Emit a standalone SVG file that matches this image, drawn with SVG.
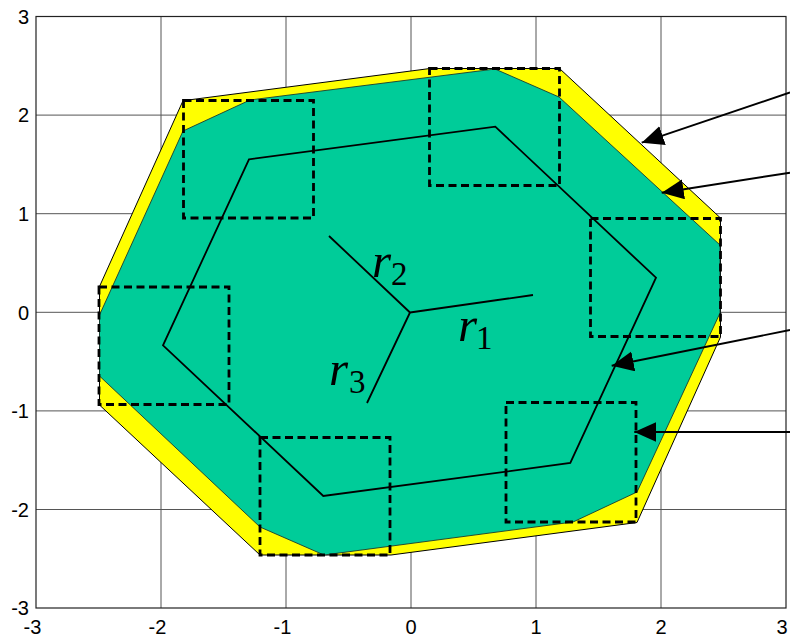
<svg xmlns="http://www.w3.org/2000/svg" width="790" height="638" viewBox="0 0 790 638">
<style>
.grid{stroke:#555;stroke-width:1;fill:none}
.tick{font-family:"Liberation Sans",Arial,sans-serif;font-size:20px;fill:#000}
.sq{fill:none;stroke:#000;stroke-width:2.8;stroke-dasharray:8,4.5}
.ln{fill:none;stroke:#000;stroke-width:1.8}
.rl{font-family:"Liberation Serif","Times New Roman",serif;font-style:italic;font-size:49px;fill:#000}
.sub{font-family:"Liberation Serif","Times New Roman",serif;font-size:33px;fill:#000}
.arr{stroke:#000;stroke-width:1.9;fill:none;marker-end:url(#ah)}
</style>
<defs>
<marker id="ah" markerUnits="userSpaceOnUse" markerWidth="24" markerHeight="22" refX="22" refY="10" orient="auto">
<path d="M0,0 L22,10 L0,20 Z" fill="#000"/>
</marker>
</defs>
<rect width="790" height="638" fill="#fff"/>
<g id="grid" class="grid">
<path d="M161,16.5V608 M286,16.5V608 M411,16.5V608 M536,16.5V608 M661,16.5V608"/>
<path d="M36,115.1H786 M36,213.7H786 M36,312.3H786 M36,410.9H786 M36,509.5H786"/>
</g>
<g id="outer-region">
<polygon points="183,100.7 430,68.5 559.5,68.5 720.5,218 720.5,337 637,522.5 391,555 260,555 99.5,405 99.5,286.5" fill="#ffff00" stroke="#000" stroke-width="1"/>
</g>
<g id="inner-region">
<polygon points="183,131 250,100 495,69 559,97 720,245 720,313 637,492 573,522 324,555 260,527 99.5,376 99.5,315" fill="#00cc99" stroke="#1a3a30" stroke-width="0.9"/>
</g>
<g id="path-hexagon">
<polygon class="ln" points="249,159.3 495.3,126.7 656,277.7 570.3,463 323.3,496 163,345.3"/>
</g>
<g id="squares">
<rect class="sq" x="183.5" y="100.5" width="130" height="117.5"/>
<rect class="sq" x="429.5" y="68.5" width="130" height="117"/>
<rect class="sq" x="590.5" y="218.5" width="130" height="118"/>
<rect class="sq" x="506" y="402.5" width="130" height="119.5"/>
<rect class="sq" x="260" y="437.5" width="130" height="117.5"/>
<rect class="sq" x="99" y="287" width="130" height="117.5"/>
</g>
<g id="radii">
<path class="ln" d="M410,312.5 L533,295 M410,312.5 L329,236 M410,312.5 L367,403"/>
<text class="rl" x="372" y="277">r</text><text class="sub" x="391" y="285">2</text>
<text class="rl" x="458" y="341">r</text><text class="sub" x="476" y="349">1</text>
<text class="rl" x="329" y="385">r</text><text class="sub" x="349" y="393">3</text>
</g>
<g id="axes">
<rect x="36" y="16.5" width="750" height="591.5" fill="none" stroke="#222" stroke-width="1.2"/>
<g class="tick" text-anchor="end">
<text x="29" y="23.5">3</text>
<text x="29" y="122.3">2</text>
<text x="29" y="220.9">1</text>
<text x="29" y="319.5">0</text>
<text x="29" y="418.1">-1</text>
<text x="29" y="516.7">-2</text>
<text x="29" y="615.3">-3</text>
</g>
<g class="tick" text-anchor="middle">
<text x="32.5" y="634">-3</text>
<text x="157.5" y="634">-2</text>
<text x="282.5" y="634">-1</text>
<text x="411" y="634">0</text>
<text x="536" y="634">1</text>
<text x="661" y="634">2</text>
<text x="782" y="634">3</text>
</g>
</g>
<g id="connectors">
<line class="arr" x1="790" y1="92.5" x2="641.7" y2="142.7"/>
<line class="arr" x1="790" y1="172.7" x2="661.7" y2="192.7"/>
<line class="arr" x1="790" y1="330" x2="611.7" y2="365.7"/>
<line class="arr" x1="790" y1="432" x2="634.3" y2="432"/>
</g>
</svg>
